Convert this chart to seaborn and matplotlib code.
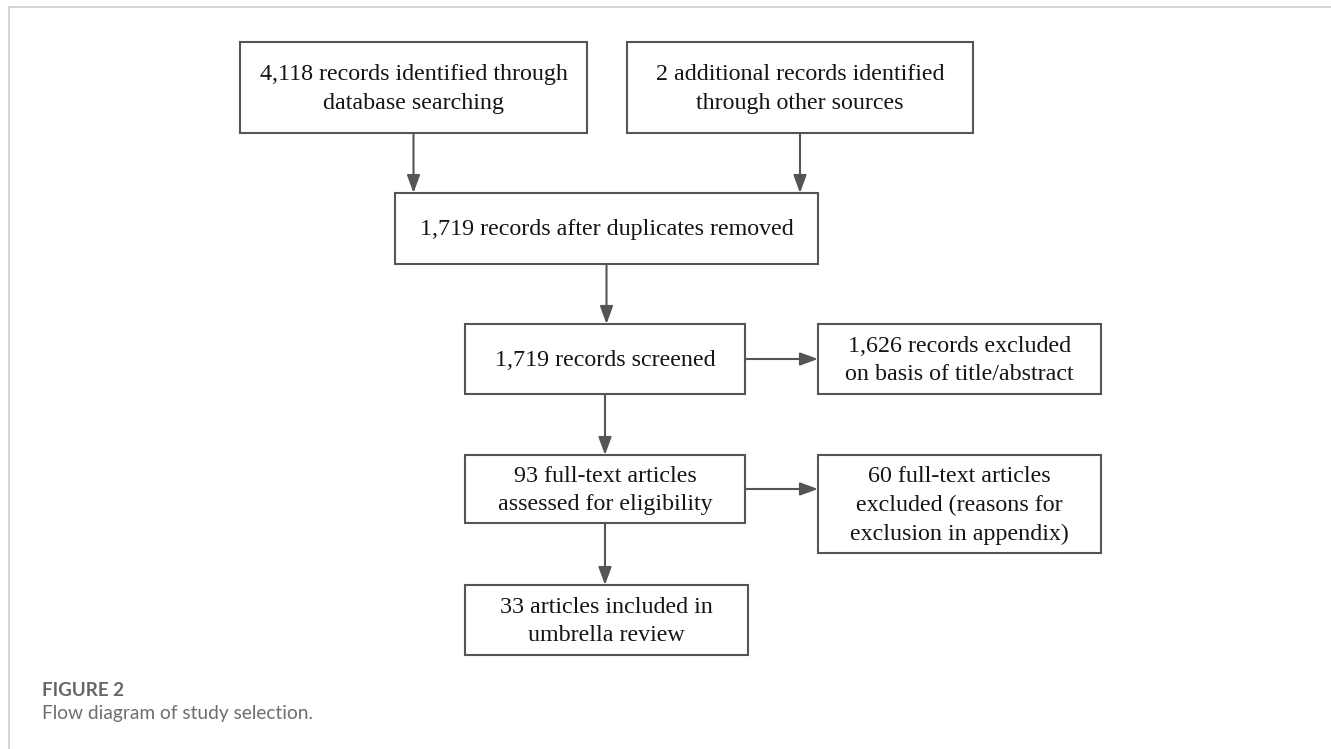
import matplotlib
matplotlib.use("Agg")
import matplotlib.pyplot as plt
from matplotlib.patches import Rectangle, ArrowStyle
from matplotlib.lines import Line2D
import seaborn as sns

# ---- data (texts of the flow diagram) ----
box_ids = ["db", "other", "dedup", "screened", "excl_title", "fulltext", "excl_full", "included"]
box_texts = [
    "4,118 records identified through\ndatabase searching",
    "2 additional records identified\nthrough other sources",
    "1,719 records after duplicates removed",
    "1,719 records screened",
    "1,626 records excluded\non basis of title/abstract",
    "93 full-text articles\nassessed for eligibility",
    "60 full-text articles\nexcluded (reasons for\nexclusion in appendix)",
    "33 articles included in\numbrella review",
]
links_from = ["db", "other", "dedup", "screened", "screened", "fulltext", "fulltext"]
links_to = ["dedup", "dedup", "screened", "excl_title", "fulltext", "excl_full", "included"]
caption_title = "FIGURE 2"
caption_text = "Flow diagram of study selection."

# ---- layout (pixel coords: x0, y0, x1, y1) ----
layout = {
    "db": (240, 42, 587, 133),
    "other": (627, 42, 973, 133),
    "dedup": (395, 193, 818, 264),
    "screened": (465, 324, 745, 394),
    "excl_title": (818, 324, 1101, 394),
    "fulltext": (465, 455, 745, 523),
    "excl_full": (818, 455, 1101, 553),
    "included": (465, 585, 748, 655),
}

sns.set_theme(style="white")
W, H = 1331, 749
fig = plt.figure(figsize=(W / 100, H / 100), dpi=100)
ax = fig.add_axes([0, 0, 1, 1])
ax.set_xlim(0, W)
ax.set_ylim(H, 0)
ax.axis("off")

edge = "#555555"
# outer frame lines
ax.add_line(Line2D([9, W], [7, 7], color="#d0d0d0", lw=1.3))
ax.add_line(Line2D([9, 9], [7, H], color="#d0d0d0", lw=1.3))

for bid, txt in zip(box_ids, box_texts):
    x0, y0, x1, y1 = layout[bid]
    ax.add_patch(Rectangle((x0, y0), x1 - x0, y1 - y0, fill=False,
                           edgecolor=edge, lw=1.5))
    ax.text((x0 + x1) / 2, (y0 + y1) / 2 + 1.5, txt, ha="center", va="center",
            family="Liberation Serif", fontsize=17.3, color="#151515",
            linespacing=1.47)

style = ArrowStyle("-|>", head_length=0.6, head_width=0.22)
for a, b in zip(links_from, links_to):
    ax0, ay0, ax1, ay1 = layout[a]
    bx0, by0, bx1, by1 = layout[b]
    if by0 >= ay1:  # vertical
        x = (ax0 + ax1) / 2
        start, end = (x, ay1), (x, by0)
    else:  # horizontal
        y = (ay0 + ay1) / 2
        start, end = (ax1, y), (bx0, y)
    ax.annotate("", xy=end, xytext=start,
                arrowprops=dict(arrowstyle=style, color=edge, lw=1.5,
                                mutation_scale=18, shrinkA=0, shrinkB=0))

ax.text(42, 690, caption_title, ha="left", va="center", family="Lato",
        fontweight="bold", fontsize=13.5, color="#666666")
ax.text(42, 714, caption_text, ha="left", va="center", family="Lato",
        fontsize=13.8, color="#6e6e6e")

fig.savefig("out.png", dpi=100)
